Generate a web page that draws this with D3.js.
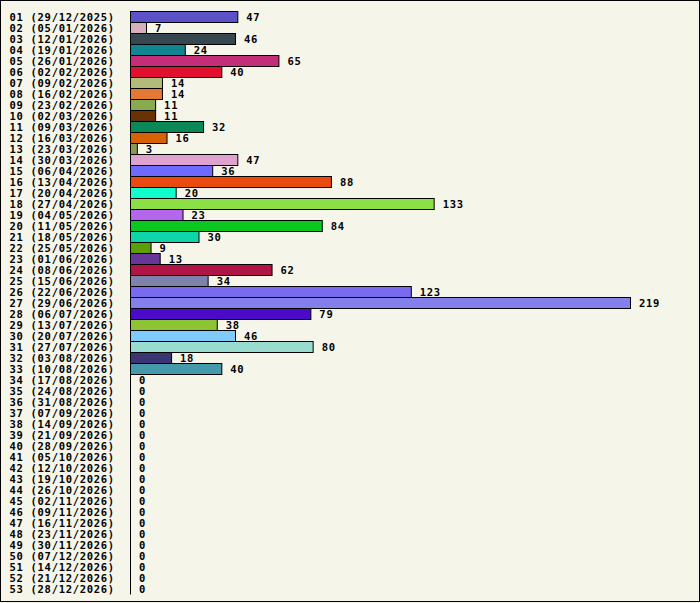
<!DOCTYPE html>
<html>
<head>
<meta charset="utf-8">
<script src="https://cdn.jsdelivr.net/npm/d3@7"></script>
<style>
    body { margin: 0; background: #f6f5e9; }
    svg { display: block; }
    .lbl { font-family: "DejaVu Sans Mono", monospace; font-weight: bold; font-size: 10.5px; letter-spacing: 0.7px; fill: #000; }
</style>
</head>
<body>
<div id="chart"></div>
<script>

var weeks = ["01 (29/12/2025)", "02 (05/01/2026)", "03 (12/01/2026)", "04 (19/01/2026)", "05 (26/01/2026)",
    "06 (02/02/2026)", "07 (09/02/2026)", "08 (16/02/2026)", "09 (23/02/2026)", "10 (02/03/2026)",
    "11 (09/03/2026)", "12 (16/03/2026)", "13 (23/03/2026)", "14 (30/03/2026)", "15 (06/04/2026)",
    "16 (13/04/2026)", "17 (20/04/2026)", "18 (27/04/2026)", "19 (04/05/2026)", "20 (11/05/2026)",
    "21 (18/05/2026)", "22 (25/05/2026)", "23 (01/06/2026)", "24 (08/06/2026)", "25 (15/06/2026)",
    "26 (22/06/2026)", "27 (29/06/2026)", "28 (06/07/2026)", "29 (13/07/2026)", "30 (20/07/2026)",
    "31 (27/07/2026)", "32 (03/08/2026)", "33 (10/08/2026)", "34 (17/08/2026)", "35 (24/08/2026)",
    "36 (31/08/2026)", "37 (07/09/2026)", "38 (14/09/2026)", "39 (21/09/2026)", "40 (28/09/2026)",
    "41 (05/10/2026)", "42 (12/10/2026)", "43 (19/10/2026)", "44 (26/10/2026)", "45 (02/11/2026)",
    "46 (09/11/2026)", "47 (16/11/2026)", "48 (23/11/2026)", "49 (30/11/2026)", "50 (07/12/2026)",
    "51 (14/12/2026)", "52 (21/12/2026)", "53 (28/12/2026)"];

var counts = [47, 7, 46, 24, 65, 40, 14, 14, 11, 11,
    32, 16, 3, 47, 36, 88, 20, 133, 23, 84,
    30, 9, 13, 62, 34, 123, 219, 79, 38, 46,
    80, 18, 40, 0, 0, 0, 0, 0, 0, 0,
    0, 0, 0, 0, 0, 0, 0, 0, 0, 0,
    0, 0, 0];

var barColors = ["#5b52c8", "#d8b0bb", "#37474f", "#118690", "#c42d78", "#e0102e", "#b3bb7b", "#e37933", "#88aa50", "#683204",
    "#0a8855", "#d66205", "#8a9955", "#dfa2cf", "#6e6aff", "#ea4a10", "#10ffcc", "#8ae044", "#b466ec", "#0ac820",
    "#10d4aa", "#5c9f08", "#683696", "#b01545", "#7f82aa", "#7a6af0", "#8380ec", "#4b0ac8", "#8cc433", "#7fcbfc",
    "#98dcd0", "#3c3575", "#449aaa"];


var drawChart = {
    init: function(){

        var totalWidth = 700,
            totalHeight = 603;

        var margin = {top: 11, right: 70, bottom: 9, left: 130.5},
            width = 500,
            height = weeks.length * 11;

        var data = weeks.map(function(w, i){
            return {week: w, value: counts[i], color: barColors[i % barColors.length]};
        });

        var svg = d3.select("#chart")
            .append("svg")
            .attr("width", totalWidth)
            .attr("height", totalHeight);

        // outer frame
        svg.append("rect")
            .attr("x", 0.5)
            .attr("y", 0.5)
            .attr("width", totalWidth - 1)
            .attr("height", totalHeight - 2)
            .attr("fill", "#f6f5e9")
            .attr("stroke", "#000")
            .attr("stroke-width", 1);

        var g = svg.append("g")
            .attr("transform", "translate(" + margin.left + "," + (margin.top + 0.5) + ")");

        var x = d3.scaleLinear()
            .domain([0, d3.max(counts)])
            .range([0, width]);

        var y = d3.scaleBand()
            .domain(weeks)
            .range([0, height])
            .padding(0);

        var yAxis = g.append("g")
            .call(d3.axisLeft(y).tickSize(0).tickSizeOuter(0).offset(0))

        yAxis.select(".domain")
            .attr("stroke", "#000")
            .attr("stroke-width", 1);

        yAxis.selectAll("text")
            .attr("class", "lbl")
            .attr("x", -margin.left + 9.5)
            .attr("dy", "0.4em")
            .attr("text-anchor", "start")
            .attr("font-family", null)
            .attr("font-size", null);

        g.selectAll(".bar")
            .data(data.filter(function(d){ return d.value > 0 }))
            .enter()
            .append("rect")
            .attr("class", "bar")
            .attr("x", 0)
            .attr("y", function(d){ return y(d.week) })
            .attr("width", function(d){ return x(d.value) })
            .attr("height", y.bandwidth())
            .attr("fill", function(d){ return d.color })
            .attr("stroke", "#000")
            .attr("stroke-width", 1);

        g.selectAll(".val")
            .data(data)
            .enter()
            .append("text")
            .attr("class", "lbl val")
            .attr("x", function(d){ return x(d.value) + 8.5 })
            .attr("y", function(d){ return y(d.week) + y.bandwidth() / 2 })
            .attr("dy", "0.4em")
            .text(function(d){ return d.value });

    }
}

drawChart.init();

</script>
</body>
</html>
